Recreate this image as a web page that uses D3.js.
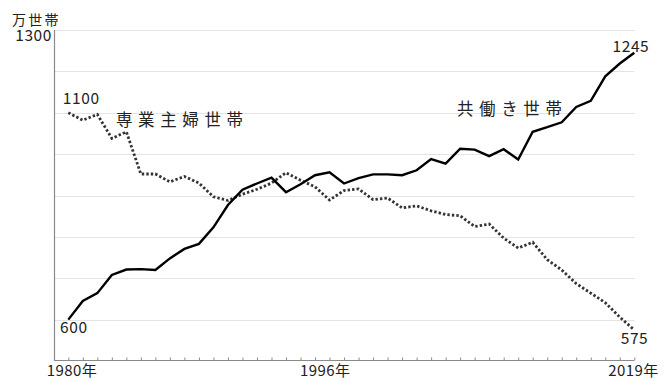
<!DOCTYPE html>
<html>
<head>
<meta charset="utf-8">
<script src="https://cdn.jsdelivr.net/npm/d3@7"></script>
<style>
  html, body { margin: 0; padding: 0; background: #fff; }
  svg text { font-family: "Noto Sans CJK JP", "Noto Sans", sans-serif; fill: #222; }
</style>
</head>
<body>
<svg id="chart" width="666" height="380"></svg>
<script>
// 共働き世帯と専業主婦世帯の推移（万世帯）
const years = d3.range(1980, 2020);
const dualIncome = [600, 645, 664, 708, 721, 722, 720, 748, 771, 783,
  823, 877, 914, 929, 943, 908, 927, 949, 956, 929,
  942, 951, 951, 949, 961, 988, 977, 1013, 1011, 995,
  1012, 987, 1054, 1065, 1077, 1114, 1129, 1188, 1219, 1245];
const housewife = [1100, 1082, 1096, 1038, 1054, 952, 952, 933, 946, 930,
  897, 888, 903, 915, 930, 955, 937, 921, 889, 912,
  916, 890, 894, 870, 875, 863, 854, 851, 825, 831,
  797, 773, 787, 745, 720, 687, 664, 641, 606, 575];
const gridValues = [600, 700, 800, 900, 1000, 1100, 1200, 1300];
const unitLabel = "万世帯";
const seriesNames = ["共働き世帯", "専業主婦世帯"];
const yearLabels = [1980, 1996, 2019];

const svg = d3.select("#chart");
const x = d3.scaleLinear().domain([1980, 2019]).range([68.3, 634.3]);
const y = d3.scaleLinear().domain([500, 1300]).range([361, 30]);
const axisX = 54.5;

// gridlines
svg.append("g").selectAll("line").data(gridValues).join("line")
  .attr("x1", axisX).attr("x2", x(2019))
  .attr("y1", d => Math.round(y(d)) + 0.5).attr("y2", d => Math.round(y(d)) + 0.5)
  .attr("stroke", "#e3e3e3").attr("stroke-width", 1);

// left axis
svg.append("line")
  .attr("x1", axisX).attr("x2", axisX)
  .attr("y1", y(1300)).attr("y2", y(500))
  .attr("stroke", "#8a8a8a").attr("stroke-width", 1.2);

// bottom axis with inward yearly ticks
const xAxis = d3.axisBottom(x).tickValues(years).tickSize(-3).tickFormat("");
const gx = svg.append("g").attr("transform", `translate(0,${Math.round(y(500)) - 0.5})`).call(xAxis);
gx.select(".domain").remove();
gx.selectAll(".tick line").attr("stroke", "#8a8a8a");
gx.append("line").attr("x1", axisX).attr("x2", x(2019))
  .attr("stroke", "#8a8a8a").attr("stroke-width", 1.2);

const line = d3.line().x((d, i) => x(years[i])).y(d => y(d));

svg.append("path").datum(housewife)
  .attr("d", line).attr("fill", "none")
  .attr("stroke", "#333").attr("stroke-width", 2.8)
  .attr("stroke-dasharray", "2.4,2.1");

svg.append("path").datum(dualIncome)
  .attr("d", line).attr("fill", "none")
  .attr("stroke", "#000").attr("stroke-width", 2.4)
  .attr("stroke-linejoin", "miter");

// texts
svg.append("text").attr("x", 12).attr("y", 25).attr("font-size", 14)
  .attr("letter-spacing", 2.3).text(unitLabel);
svg.append("text").attr("x", 52).attr("y", 41).attr("font-size", 15.5)
  .attr("letter-spacing", 0.6)
  .attr("text-anchor", "end").text(d3.max(gridValues));

const valueSize = 15.5;
svg.append("text").attr("x", x(1980) - 5.5).attr("y", 104).attr("font-size", valueSize)
  .attr("letter-spacing", 0.6).text(housewife[0]);
svg.append("text").attr("x", x(1980) - 8.3).attr("y", 333).attr("font-size", valueSize)
  .attr("letter-spacing", 0.6).text(dualIncome[0]);
svg.append("text").attr("x", x(2019) + 15).attr("y", 52).attr("font-size", valueSize)
  .attr("letter-spacing", 0.6).attr("text-anchor", "end").text(dualIncome[39]);
svg.append("text").attr("x", x(2019) + 14).attr("y", 344).attr("font-size", valueSize)
  .attr("letter-spacing", 0.6).attr("text-anchor", "end").text(housewife[39]);

svg.append("text").attr("x", 116).attr("y", 125.5).attr("font-size", 16.5)
  .attr("letter-spacing", 5.6).text(seriesNames[1]);
svg.append("text").attr("x", 457).attr("y", 115).attr("font-size", 16.5)
  .attr("letter-spacing", 5.6).text(seriesNames[0]);

// year labels
const yearOffsets = { 1980: -21.5, 1996: -0.5, 2019: -26 };
svg.append("g").selectAll("text").data(yearLabels).join("text")
  .attr("x", d => x(d) + yearOffsets[d]).attr("y", 376).attr("font-size", 15)
  .attr("letter-spacing", 0.4)
  .text(d => d + "年");
</script>
</body>
</html>
